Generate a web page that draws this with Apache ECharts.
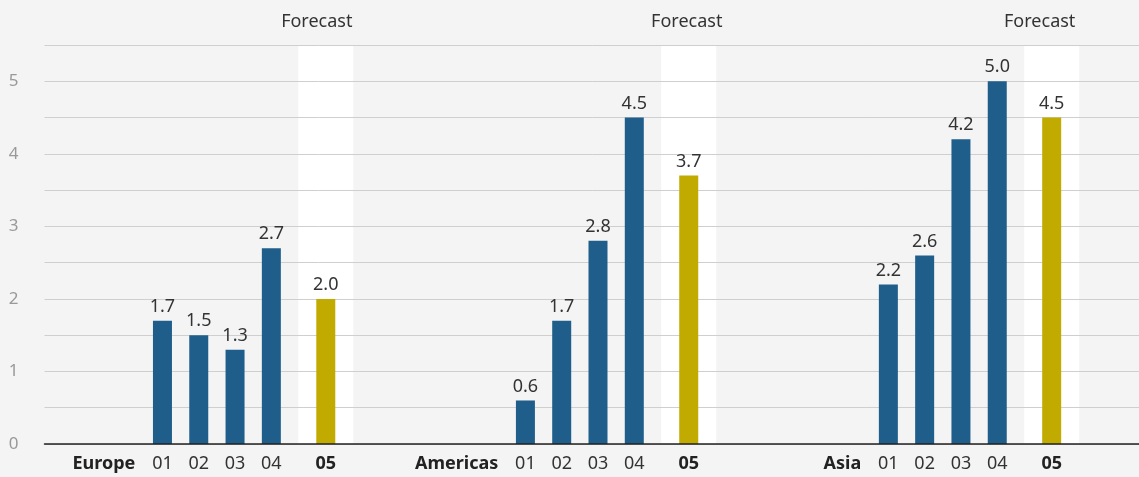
<!DOCTYPE html>
<html>
<head>
<meta charset="utf-8">
<script src="https://cdn.jsdelivr.net/npm/echarts@6/dist/echarts.min.js"></script>
<style>
  html, body { margin: 0; padding: 0; background: #f4f4f4; }
  #main { width: 1139px; height: 477px; }
</style>
</head>
<body>
<div id="main"></div>
<script>
// data
var regions = ["Europe", "Americas", "Asia"];
var periods = ["01", "02", "03", "04", "05"];
var europe = [1.7, 1.5, 1.3, 2.7, 2.0];
var americas = [0.6, 1.7, 2.8, 4.5, 3.7];
var asia = [2.2, 2.6, 4.2, 5.0, 4.5];
var yTicks = [0, 1, 2, 3, 4, 5];
var forecastLabel = "Forecast";

// layout: half-width slots on the category axis
var slotCount = 61;
var groupStep = 20;
var periodSlots = [6, 8, 10, 12, 15];
var regionLabelSlot = 5;
var yMax = 5.5;
var forecastShift = [-9, -2, -12];

var font = "'Noto Sans', 'Open Sans', sans-serif";
var blue = "#1f5e8a";
var gold = "#c2ab00";

var allValues = [europe, americas, asia];
var categories = [];
var barData = [];
var bandData = [];
for (var i = 0; i < slotCount; i++) {
  categories.push("");
  barData.push("-");
  bandData.push("-");
}
regions.forEach(function (name, g) {
  var base = g * groupStep;
  categories[base + regionLabelSlot] = {
    value: name,
    textStyle: { fontWeight: "bold", align: "right", padding: [0, 9, 0, 0], color: "#222" }
  };
  periods.forEach(function (p, k) {
    var slot = base + periodSlots[k];
    var isForecast = k === periods.length - 1;
    categories[slot] = isForecast
      ? { value: p, textStyle: { fontWeight: "bold", color: "#222" } }
      : p;
    barData[slot] = {
      value: allValues[g][k],
      itemStyle: { color: isForecast ? gold : blue }
    };
    if (isForecast) {
      bandData[slot] = { value: yMax, label: { offset: [forecastShift[g], 0] } };
    }
  });
});

var chartDom = document.getElementById("main");
var myChart = echarts.init(chartDom);
var option = {
  backgroundColor: "#f4f4f4",
  animation: false,
  textStyle: { fontFamily: font },
  grid: {
    left: 44.5,
    top: 45,
    width: 1107,
    bottom: 33,
    outerBoundsMode: "none"
  },
  xAxis: [
    {
      type: "category",
      data: categories,
      axisTick: { show: false },
      axisLine: { lineStyle: { color: "#222", width: 1.5 } },
      axisLabel: {
        interval: 0,
        fontSize: 18,
        color: "#333",
        fontFamily: font,
        margin: 11
      },
      z: 3
    },
    {
      type: "category",
      data: categories.map(function () { return ""; }),
      show: false
    }
  ],
  yAxis: {
    type: "value",
    min: 0,
    max: yMax,
    interval: 0.5,
    axisLine: { show: false },
    axisTick: { show: false },
    splitLine: { lineStyle: { color: "#cfcfcf", width: 1 } },
    axisLabel: {
      fontSize: 17,
      color: "#999",
      margin: 26,
      fontFamily: font,
      formatter: function (v) {
        return yTicks.indexOf(v) >= 0 ? String(v) : "";
      }
    }
  },
  series: [
    {
      name: "band",
      type: "bar",
      xAxisIndex: 1,
      data: bandData,
      barWidth: 55,
      z: -1,
      silent: true,
      itemStyle: { color: "#ffffff" },
      label: {
        show: true,
        position: "top",
        distance: 14,
        formatter: forecastLabel,
        fontSize: 18,
        color: "#333",
        fontFamily: font
      }
    },
    {
      name: "value",
      type: "bar",
      data: barData,
      barWidth: 19,
      label: {
        show: true,
        position: "top",
        distance: 5,
        fontSize: 18,
        color: "#333",
        fontFamily: font,
        formatter: function (p) { return p.value.toFixed(1); }
      }
    }
  ]
};

option && myChart.setOption(option);
</script>
</body>
</html>
